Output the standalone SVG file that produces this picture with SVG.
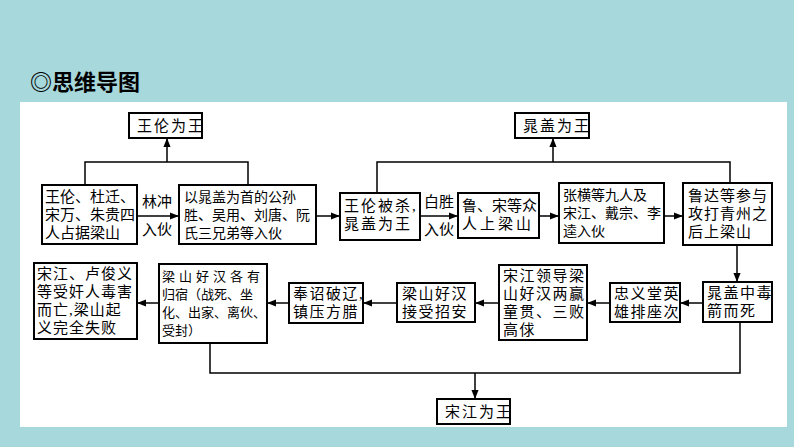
<svg xmlns="http://www.w3.org/2000/svg" width="794" height="447" viewBox="0 0 794 447">
<style>
.b{fill:#fff;stroke:#000;stroke-width:2}
.t{font-family:"Liberation Serif","Noto Sans CJK SC",serif;font-size:15px;fill:#000}
.s14{font-size:14px}
.s13{font-size:13px}
.c{fill:none;stroke:#000;stroke-width:1.5}
</style>
<defs><marker id="a" viewBox="0 0 10 10" refX="9" refY="5" markerWidth="6" markerHeight="6" orient="auto"><path d="M0,1L10,5L0,9z" fill="#000"/></marker></defs>
<rect width="794" height="447" fill="#a7d8dc"/>
<rect x="20" y="102" width="767" height="325" fill="#fff"/>
<text x="30" y="90" font-family="'Noto Sans CJK SC',sans-serif" font-size="22" font-weight="bold">◎思维导图</text>
<g id="connectors" class="c">
<path d="M85,185V162H248V185M167,162V139" marker-end="url(#a)"/>
<path d="M377,193V162H730V183M553,162V139" marker-end="url(#a)"/>
<path d="M137,216H178" marker-end="url(#a)"/>
<path d="M316,216H339" marker-end="url(#a)"/>
<path d="M420,216H457" marker-end="url(#a)"/>
<path d="M539,216H558" marker-end="url(#a)"/>
<path d="M664,216H682" marker-end="url(#a)"/>
<path d="M737,245V281" marker-end="url(#a)"/>
<path d="M703,303H681" marker-end="url(#a)"/>
<path d="M610,303H588" marker-end="url(#a)"/>
<path d="M499,303H476" marker-end="url(#a)"/>
<path d="M397,303H364" marker-end="url(#a)"/>
<path d="M289,303H268" marker-end="url(#a)"/>
<path d="M159,303H138" marker-end="url(#a)"/>
<path d="M210,343V373H740V322M475,373V398" marker-end="url(#a)"/>
</g>
<g id="n1"><rect class="b" x="129" y="113" width="73" height="25"/><text class="t" x="137" y="131" letter-spacing="2">王伦为王</text></g>
<g id="n2"><rect class="b" x="515" y="113" width="74" height="25"/><text class="t" x="523" y="131" letter-spacing="2">晁盖为王</text></g>
<g id="n3"><rect class="b" x="437" y="399" width="73" height="25"/><text class="t" x="445" y="417" letter-spacing="2">宋江为王</text></g>
<g id="nA"><rect class="b" x="42" y="185" width="95" height="59"/><text class="t" x="45" y="202"><tspan>王伦、杜迁、</tspan><tspan x="45" dy="18">宋万、朱贵四</tspan><tspan x="45" dy="18">人占据梁山</tspan></text></g>
<g id="lA"><text class="t" x="142" y="207">林冲</text><text class="t" x="142" y="235">入伙</text></g>
<g id="nB"><rect class="b" x="179" y="185" width="137" height="59"/><text class="t s14" x="184" y="202"><tspan>以晁盖为首的公孙</tspan><tspan x="184" dy="18">胜、吴用、刘唐、阮</tspan><tspan x="184" dy="18">氏三兄弟等入伙</tspan></text></g>
<g id="nC"><rect class="b" x="340" y="193" width="80" height="47"/><text class="t" x="344" y="211" letter-spacing="2"><tspan>王伦被杀,</tspan><tspan x="344" dy="18">晁盖为王</tspan></text></g>
<g id="lC"><text class="t" x="424" y="207">白胜</text><text class="t" x="424" y="235">入伙</text></g>
<g id="nD"><rect class="b" x="458" y="193" width="81" height="45"/><text class="t" x="462" y="211"><tspan>鲁、宋等众</tspan><tspan x="462" dy="18" letter-spacing="3">人上梁山</tspan></text></g>
<g id="nE"><rect class="b" x="559" y="183" width="105" height="60"/><text class="t s14" x="563" y="200"><tspan>张横等九人及</tspan><tspan x="563" dy="18">宋江、戴宗、李</tspan><tspan x="563" dy="18">逵入伙</tspan></text></g>
<g id="nF"><rect class="b" x="683" y="183" width="89" height="62"/><text class="t" x="688" y="201" letter-spacing="1"><tspan>鲁达等参与</tspan><tspan x="688" dy="18">攻打青州之</tspan><tspan x="688" dy="18">后上梁山</tspan></text></g>
<g id="nG"><rect class="b" x="703" y="282" width="69" height="40"/><text class="t" x="707" y="298" letter-spacing="1.5"><tspan>晁盖中毒</tspan><tspan x="707" dy="18">箭而死</tspan></text></g>
<g id="nH"><rect class="b" x="610" y="283" width="70" height="39"/><text class="t" x="614" y="299" letter-spacing="1.5"><tspan>忠义堂英</tspan><tspan x="614" dy="18">雄排座次</tspan></text></g>
<g id="nI"><rect class="b" x="499" y="265" width="88" height="75"/><text class="t" x="503" y="281" letter-spacing="1.5"><tspan>宋江领导梁</tspan><tspan x="503" dy="18">山好汉两赢</tspan><tspan x="503" dy="18">童贯、三败</tspan><tspan x="503" dy="18">高俅</tspan></text></g>
<g id="nJ"><rect class="b" x="397" y="283" width="78" height="39"/><text class="t" x="402" y="299" letter-spacing="1.5"><tspan>梁山好汉</tspan><tspan x="402" dy="18">接受招安</tspan></text></g>
<g id="nK"><rect class="b" x="289" y="283" width="74" height="40"/><text class="t" x="293" y="299" letter-spacing="1.5"><tspan>奉诏破辽,</tspan><tspan x="293" dy="18">镇压方腊</tspan></text></g>
<g id="nL"><rect class="b" x="159" y="264" width="108" height="79"/><text class="t s13" x="162" y="281"><tspan letter-spacing="4">梁山好汉各有</tspan><tspan x="162" dy="18">归宿（战死、坐</tspan><tspan x="162" dy="18">化、出家、离伙、</tspan><tspan x="162" dy="18">受封）</tspan></text></g>
<g id="nM"><rect class="b" x="34" y="263" width="103" height="76"/><text class="t" x="37" y="279" letter-spacing="1"><tspan>宋江、卢俊义</tspan><tspan x="37" dy="18">等受奸人毒害</tspan><tspan x="37" dy="18">而亡,梁山起</tspan><tspan x="37" dy="18">义完全失败</tspan></text></g>
</svg>
